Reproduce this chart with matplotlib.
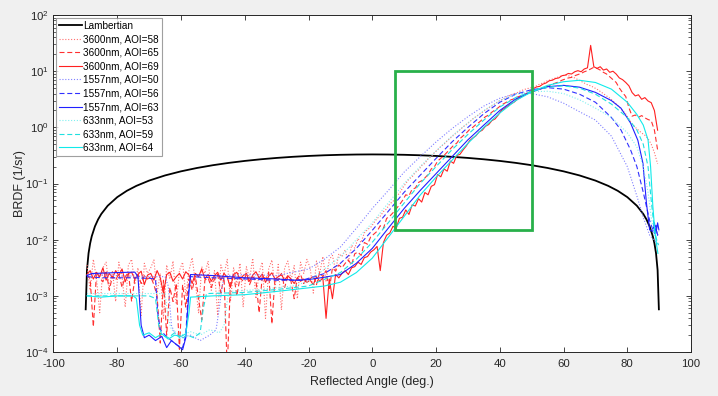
import numpy as np
import matplotlib
matplotlib.use('Agg')
import matplotlib.pyplot as plt
from matplotlib.patches import Rectangle

plt.rcParams['font.family'] = ['Liberation Sans', 'DejaVu Sans']
plt.rcParams['mathtext.fontset'] = 'custom'
plt.rcParams['mathtext.rm'] = 'Liberation Sans'
plt.rcParams['mathtext.it'] = 'Liberation Sans'
plt.rcParams['axes.unicode_minus'] = False

# ---------------- data ----------------
lambert_ang = [-89.9, -89.5, -89, -88.5, -88, -87, -86, -85, -83, -80, -77, -74, -70, -65, -60, -55, -50, -45,
               -40, -35, -30, -25, -20, -15, -10, -5, 0, 5, 10, 15, 20, 25, 30, 35, 40, 45, 50, 55, 60, 65, 70,
               74, 77, 80, 83, 85, 86, 87, 88, 88.5, 89, 89.5, 89.9]
lambert_val = [0.000576, 0.00288, 0.00576, 0.00864, 0.01152, 0.01727, 0.02302, 0.02876, 0.04022, 0.0573,
               0.07423, 0.09096, 0.1129, 0.1395, 0.165, 0.1893, 0.2121, 0.2333, 0.2528, 0.2703, 0.2858, 0.2991,
               0.3101, 0.3188, 0.325, 0.3287, 0.33, 0.3287, 0.325, 0.3188, 0.3101, 0.2991, 0.2858, 0.2703,
               0.2528, 0.2333, 0.2121, 0.1893, 0.165, 0.1395, 0.1129, 0.09096, 0.07423, 0.0573, 0.04022,
               0.02876, 0.02302, 0.01727, 0.01152, 0.00864, 0.00576, 0.00288, 0.000576]

# 3600 nm series sampled every degree from -89.5 to 89.5 (log10 of BRDF)
red_ang = np.arange(-89.5, 90.0, 1.0)
r3600_aoi58_log = [
    -2.45, -2.90, -2.35, -2.70, -3.30, -2.50, -2.40, -2.85, -2.55, -3.10,
    -2.40, -2.65, -3.20, -2.45, -2.35, -2.80, -2.50, -3.35, -2.42, -2.60,
    -2.50, -2.36, -2.95, -2.60, -3.40, -2.45, -2.70, -2.38, -3.15, -2.55,
    -2.40, -3.00, -2.55, -2.32, -2.75, -3.30, -2.48, -2.60, -2.38, -2.90,
    -2.55, -3.35, -2.45, -2.62, -2.35, -3.10, -2.50, -2.80, -2.42, -3.20,
    -2.48, -2.70, -2.33, -3.05, -2.58, -2.40, -3.40, -2.52, -2.36, -2.85,
    -2.44, -3.25, -2.50, -2.38, -2.72, -2.46, -3.05, -2.40, -2.60, -2.35,
    -2.50, -2.95, -2.38, -2.60, -2.30, -2.75, -2.35, -2.28, -2.55, -2.25,
    -2.30, -2.18, -2.40, -2.10, -2.15, -1.98, -2.05, -1.88, -1.82, -1.78,
    -1.70, -1.62, -1.58, -1.50, -1.45, -1.36, -1.32, -1.22, -1.18, -1.08,
    -1.00, -0.92, -0.88, -0.80, -0.76, -0.68, -0.64, -0.56, -0.52, -0.45,
    -0.40, -0.34, -0.30, -0.24, -0.19, -0.14, -0.09, -0.04, 0.01, 0.05,
    0.10, 0.15, 0.19, 0.23, 0.27, 0.31, 0.35, 0.38, 0.42, 0.46,
    0.49, 0.52, 0.55, 0.58, 0.60, 0.62, 0.65, 0.67, 0.69, 0.70,
    0.72, 0.74, 0.77, 0.79, 0.82, 0.84, 0.86, 0.88, 0.90, 0.92,
    0.93, 0.92, 0.90, 0.88, 0.85, 0.82, 0.79, 0.76, 0.74, 0.71,
    0.68, 0.64, 0.60, 0.56, 0.52, 0.47, 0.42, 0.36, 0.30, 0.24,
    0.15, 0.06, 0.00, -0.05, -0.10, -0.14, -0.20, -0.30, -0.45, -0.65]
r3600_aoi65_log = [
    -2.62, -2.70, -3.55, -2.58, -2.68, -2.75, -2.55, -2.90, -2.65, -2.72,
    -2.60, -2.85, -2.66, -2.58, -3.10, -2.70, -2.62, -2.78, -2.64, -2.70,
    -2.66, -2.80, -3.00, -3.84, -2.72, -3.70, -2.85, -3.10, -2.78, -3.95,
    -2.80, -3.20, -2.70, -2.90, -2.65, -3.05, -3.43, -2.72, -2.68, -2.85,
    -2.70, -2.62, -2.95, -2.66, -4.30, -2.75, -2.60, -3.00, -2.68, -2.74,
    -2.62, -2.80, -2.66, -2.72, -3.30, -2.64, -2.70, -2.58, -3.50, -2.68,
    -2.72, -2.60, -2.85, -2.66, -2.74, -3.05, -2.68, -2.62, -2.78, -2.70,
    -2.70, -2.64, -2.80, -2.58, -2.66, -2.55, -2.90, -2.50, -2.56, -2.45,
    -2.50, -2.42, -2.36, -2.45, -2.25, -2.22, -2.28, -2.05, -2.08, -1.95,
    -1.90, -1.85, -1.75, -1.80, -1.62, -1.58, -1.52, -1.45, -1.38, -1.30,
    -1.20, -1.22, -1.10, -1.08, -0.98, -0.95, -0.90, -0.84, -0.74, -0.70,
    -0.60, -0.55, -0.50, -0.44, -0.38, -0.32, -0.28, -0.20, -0.15, -0.10,
    -0.04, 0.00, 0.05, 0.09, 0.14, 0.19, 0.22, 0.27, 0.31, 0.35,
    0.40, 0.43, 0.46, 0.49, 0.51, 0.54, 0.56, 0.58, 0.61, 0.63,
    0.64, 0.66, 0.68, 0.70, 0.72, 0.74, 0.77, 0.79, 0.81, 0.84,
    0.86, 0.88, 0.89, 0.92, 0.94, 0.96, 0.99, 1.01, 1.04, 1.07,
    1.05, 1.02, 0.98, 0.95, 0.90, 0.85, 0.80, 0.70, 0.62, 0.55,
    0.35, 0.20, 0.22, 0.18, 0.21, 0.17, 0.14, 0.12, -0.05, -0.40]
r3600_aoi69_log = [
    -2.62, -2.55, -2.70, -2.58, -2.66, -2.50, -2.72, -2.60, -2.68, -2.55,
    -2.64, -2.52, -2.75, -2.60, -2.58, -2.70, -2.62, -2.56, -2.80, -2.63,
    -2.60, -2.72, -2.55, -2.68, -2.95, -2.62, -2.58, -2.74, -2.66, -2.60,
    -2.70, -2.57, -2.63, -2.78, -2.60, -2.66, -2.52, -2.70, -2.62, -2.74,
    -2.64, -2.58, -2.72, -2.60, -2.67, -2.85, -2.62, -2.58, -2.70, -2.64,
    -2.60, -2.74, -2.63, -2.57, -2.68, -2.61, -2.76, -2.65, -2.59, -2.70,
    -2.66, -2.62, -2.72, -2.64, -2.70, -2.78, -2.68, -2.74, -2.70, -2.76,
    -2.72, -2.80, -2.66, -2.74, -2.68, -3.40, -2.70, -3.05, -2.62, -2.68,
    -2.60, -2.55, -2.62, -2.50, -2.48, -2.40, -2.44, -2.32, -2.30, -2.22,
    -2.18, -2.12, -2.55, -2.05, -1.92, -1.88, -1.76, -1.80, -1.62, -1.60,
    -1.47, -1.55, -1.38, -1.40, -1.27, -1.33, -1.16, -1.20, -1.05, -1.02,
    -0.84, -0.88, -0.74, -0.78, -0.60, -0.64, -0.50, -0.48, -0.40, -0.33,
    -0.24, -0.19, -0.15, -0.08, -0.05, 0.02, 0.05, 0.12, 0.15, 0.22,
    0.30, 0.34, 0.38, 0.42, 0.45, 0.50, 0.53, 0.57, 0.60, 0.64,
    0.69, 0.72, 0.73, 0.77, 0.79, 0.83, 0.84, 0.87, 0.88, 0.92,
    0.93, 0.96, 0.95, 0.99, 1.01, 0.99, 1.04, 1.06, 1.46, 1.08,
    1.05, 1.08, 1.02, 1.04, 0.98, 1.00, 0.95, 0.88, 0.85, 0.80,
    0.74, 0.62, 0.56, 0.58, 0.50, 0.53, 0.47, 0.44, 0.30, -0.05]

# 1557 nm series
b1557_aoi50_ang = [-89.5, -80, -70, -65, -64, -63, -62, -60, -57, -54, -51, -49, -48, -47, -46, -40, -30, -20,
                   -15, -10, -5, 0, 5, 10, 15, 20, 25, 30, 35, 40, 45, 50, 55, 60, 65, 70, 75, 80, 83, 85, 87,
                   89, 89.8]
b1557_aoi50_val = [2.4e-3, 2.3e-3, 2.2e-3, 2.2e-3, 1.5e-3, 3e-4, 2.2e-4, 1.8e-4, 2e-4, 1.6e-4, 2e-4, 2.5e-4,
                   6e-4, 1.6e-3, 2.3e-3, 2.4e-3, 2.3e-3, 3e-3, 4.5e-3, 7.4e-3, 0.016, 0.036, 0.075, 0.16, 0.3,
                   0.55, 0.95, 1.55, 2.4, 3.3, 4.0, 4.0, 3.5, 2.7, 1.9, 1.35, 0.7, 0.2, 0.06, 0.025, 0.012,
                   0.009, 0.008]
b1557_aoi56_ang = [-89.5, -85, -75, -70, -68, -67.3, -66.5, -65, -63, -61, -59.5, -58.5, -57.8, -57, -50, -40,
                   -30, -22, -15, -10, -5, 0, 5, 10, 15, 20, 25, 30, 35, 40, 45, 50, 55, 60, 65, 70, 75, 78,
                   81, 83, 85, 87, 88, 88.5, 89, 89.5, 89.9]
b1557_aoi56_val = [2.2e-3, 2.1e-3, 2.1e-3, 2.05e-3, 2e-3, 5e-4, 2.5e-4, 2e-4, 1.6e-4, 1.3e-4, 1.2e-4, 2e-4,
                   1e-3, 2.2e-3, 2.1e-3, 2.0e-3, 1.9e-3, 1.9e-3, 2.5e-3, 3.8e-3, 7e-3, 0.0147, 0.032, 0.07,
                   0.14, 0.28, 0.55, 1.0, 1.75, 2.8, 3.9, 4.7, 5.1, 4.8, 3.9, 2.8, 1.5, 0.9, 0.4, 0.2, 0.07,
                   0.022, 0.015, 0.013, 0.018, 0.012, 0.014]
b1557_aoi63_ang = [-89.5, -88, -80, -74.5, -73.5, -72.5, -71.5, -70, -68, -66, -64.5, -63, -61, -59.5, -58.5,
                   -57.5, -57, -50, -40, -30, -24, -20, -15, -10, -5, 0, 5, 10, 15, 20, 25, 30, 35, 40, 45, 50,
                   55, 60, 65, 70, 75, 78, 81, 83.3, 84.9, 86, 87, 88, 88.5, 89, 89.5, 89.9]
b1557_aoi63_val = [2.3e-3, 2.5e-3, 2.6e-3, 2.65e-3, 2.2e-3, 3e-4, 1.8e-4, 2e-4, 1.6e-4, 1.9e-4, 1.2e-4, 1.6e-4,
                   1.3e-4, 1.1e-4, 1.8e-4, 1.2e-3, 2.4e-3, 2.3e-3, 2.1e-3, 2.0e-3, 1.9e-3, 1.95e-3, 2.15e-3,
                   2.4e-3, 3.8e-3, 7e-3, 0.016, 0.036, 0.075, 0.15, 0.3, 0.6, 1.1, 2.0, 3.2, 4.3, 5.3, 5.6,
                   5.2, 4.2, 3.0, 2.2, 1.2, 0.59, 0.23, 0.045, 0.015, 0.014, 0.02, 0.013, 0.02, 0.015]

# 633 nm series
c633_aoi53_ang = [-89.5, -75, -65, -64, -63, -60, -57, -54, -51, -48, -46.5, -45.5, -45, -35, -25, -20, -15,
                  -10, -5, 0, 5, 10, 15, 20, 25, 30, 35, 40, 45, 50, 55, 60, 65, 70, 75, 80, 83, 85, 86.5,
                  87.5, 88.5, 89.8]
c633_aoi53_val = [1.1e-3, 1.1e-3, 1.1e-3, 4e-4, 2.5e-4, 2e-4, 2.3e-4, 2e-4, 2.5e-4, 2.2e-4, 3e-4, 8e-4, 1.2e-3,
                  1.3e-3, 1.5e-3, 1.8e-3, 3e-3, 5e-3, 0.01, 0.02, 0.045, 0.1, 0.2, 0.38, 0.7, 1.2, 2.0, 3.0,
                  3.9, 4.3, 4.4, 4.0, 3.1, 2.2, 1.5, 0.8, 0.45, 0.2, 0.07, 0.025, 0.012, 0.008]
c633_aoi59_ang = [-89.5, -80, -70, -68, -67, -66, -64, -62, -60, -58, -56, -54, -53, -52, -40, -30, -20, -10,
                  -5, 0, 5, 10, 15, 20, 25, 30, 35, 40, 45, 50, 55, 60, 65, 70, 75, 80, 83, 85, 86.5, 87.5,
                  88.5, 89.2, 89.8]
c633_aoi59_val = [1e-3, 1e-3, 1e-3, 9e-4, 3e-4, 2e-4, 1.8e-4, 2.2e-4, 1.7e-4, 2e-4, 1.8e-4, 2.2e-4, 6e-4,
                  1.1e-3, 1.15e-3, 1.3e-3, 1.5e-3, 2.6e-3, 4.5e-3, 0.009, 0.02, 0.045, 0.1, 0.2, 0.4, 0.75,
                  1.35, 2.3, 3.4, 4.4, 5.2, 5.5, 5.0, 3.9, 2.6, 1.5, 0.9, 0.5, 0.2, 0.05, 0.015, 0.01, 0.008]
c633_aoi64_ang = [-89.5, -85, -80, -75, -74, -73, -72, -70, -68, -66, -64, -62, -60, -58.5, -57.5, -57, -50,
                  -40, -30, -22, -15, -10, -5, 0, 5, 10, 15, 20, 25, 30, 35, 40, 45, 50, 55, 60, 65, 70, 75,
                  80, 83, 85, 86.5, 87.3, 88, 88.6, 89.2, 89.6]
c633_aoi64_val = [1e-3, 9.5e-4, 1e-3, 1e-3, 9e-4, 3e-4, 2e-4, 2.2e-4, 1.8e-4, 2.1e-4, 1.7e-4, 2e-4, 1.9e-4,
                  2.1e-4, 5e-4, 9.5e-4, 1e-3, 1.05e-3, 1.2e-3, 1.35e-3, 1.5e-3, 1.75e-3, 2.6e-3, 4.7e-3, 0.011,
                  0.026, 0.062, 0.13, 0.26, 0.52, 1.0, 1.8, 3.0, 4.3, 5.6, 6.5, 6.9, 6.3, 4.8, 2.8, 1.7, 1.1,
                  0.6, 0.2, 0.04, 0.015, 0.008, 0.0057]

# highlighted region (angle range, BRDF range)
box_ang = [7, 50]
box_brdf = [0.015, 10]

assert len(r3600_aoi58_log) == len(red_ang)
assert len(r3600_aoi65_log) == len(red_ang)
assert len(r3600_aoi69_log) == len(red_ang)

# ---------------- plot ----------------
fig = plt.figure(figsize=(7.18, 3.96), dpi=100, facecolor='#f0f0f0')
ax = fig.add_axes([0.0745, 0.111, 0.888, 0.851])
ax.set_facecolor('white')

lw = 0.8
dash = (4.5, 2.5)
dot = (1.0, 1.6)

ax.plot(lambert_ang, lambert_val, color='black', lw=1.3, label='Lambertian')

ax.plot(red_ang, 10 ** np.array(r3600_aoi58_log), color='#ff7070', lw=lw, dashes=dot, label='3600nm, AOI=58')
ax.plot(red_ang, 10 ** np.array(r3600_aoi65_log), color='#ff3030', lw=lw, dashes=dash, label='3600nm, AOI=65')
ax.plot(red_ang, 10 ** np.array(r3600_aoi69_log), color='#ff2020', lw=lw, label='3600nm, AOI=69')

ax.plot(b1557_aoi50_ang, b1557_aoi50_val, color='#8080ff', lw=lw, dashes=dot, label='1557nm, AOI=50')
ax.plot(b1557_aoi56_ang, b1557_aoi56_val, color='#3030ff', lw=lw, dashes=dash, label='1557nm, AOI=56')
ax.plot(b1557_aoi63_ang, b1557_aoi63_val, color='#2020ff', lw=lw, label='1557nm, AOI=63')

ax.plot(c633_aoi53_ang, c633_aoi53_val, color='#80f0f0', lw=lw, dashes=dot, label='633nm, AOI=53')
ax.plot(c633_aoi59_ang, c633_aoi59_val, color='#20e0e0', lw=lw, dashes=dash, label='633nm, AOI=59')
ax.plot(c633_aoi64_ang, c633_aoi64_val, color='#10eaea', lw=lw, label='633nm, AOI=64')

ax.add_patch(Rectangle((box_ang[0], box_brdf[0]), box_ang[1] - box_ang[0], box_brdf[1] - box_brdf[0],
                       fill=False, edgecolor='#28b04a', lw=2.0, zorder=5))

ax.set_yscale('log')
ax.set_xlim(-100, 100)
ax.set_ylim(1e-4, 1e2)
ax.set_xticks(np.arange(-100, 101, 20))

for s in ax.spines.values():
    s.set_color('#262626')
    s.set_linewidth(0.7)
ax.tick_params(which='both', direction='in', top=True, right=True, colors='#262626', labelsize=8.2)
ax.tick_params(which='major', length=3.5, width=0.6)
ax.tick_params(which='minor', length=2, width=0.5)
ax.tick_params(axis='x', which='major', pad=5)
ax.minorticks_on()
ax.xaxis.set_minor_locator(matplotlib.ticker.NullLocator())

ax.set_xlabel('Reflected Angle (deg.)', fontsize=9, color='#262626', labelpad=5)
ax.set_ylabel('BRDF (1/sr)', fontsize=9, color='#262626', labelpad=-1)

leg = ax.legend(loc='upper left', bbox_to_anchor=(0.0, 1.0), fontsize=7.2, frameon=True, fancybox=False,
                handlelength=2.3, handletextpad=0.15, labelspacing=0.36, borderpad=0.3, borderaxespad=0.25)
leg.get_frame().set_edgecolor('#888888')
leg.get_frame().set_linewidth(0.8)

fig.savefig('out.png', dpi=100, facecolor=fig.get_facecolor())
